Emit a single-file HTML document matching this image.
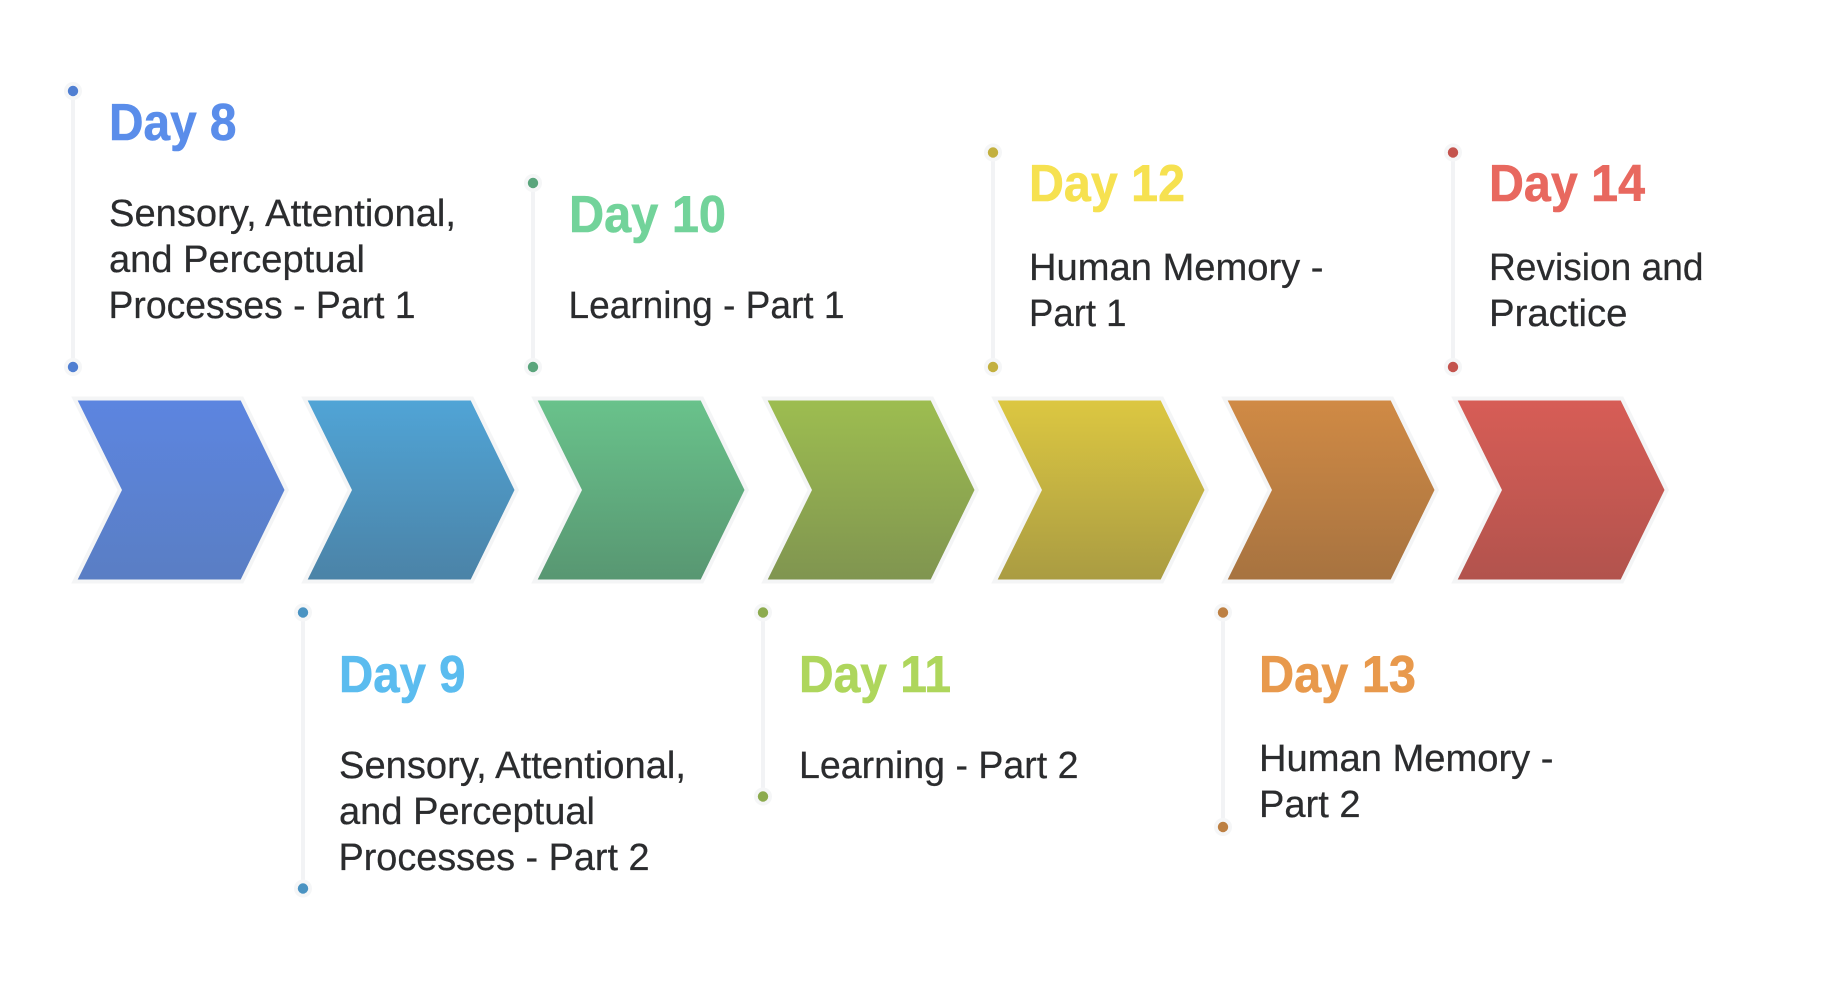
<!DOCTYPE html>
<html lang="en">
<head>
<meta charset="utf-8">
<title>Day 8 to Day 14 Timeline</title>
<style>
html,body{margin:0;padding:0;background:#fff;width:1838px;height:982px;overflow:hidden}
svg{display:block}
text{font-family:"Liberation Sans",Arial,sans-serif}
.t{font-size:52px;font-weight:700;stroke-width:.6px}
.b{font-size:38px;fill:#2b2c2e;stroke:#2b2c2e;stroke-width:.25px}
.l{stroke:#f2f3f5;stroke-width:4;fill:none}
.h{fill:#f5f6f7}
.e{fill:none;stroke:#f4f5f6;stroke-width:8;stroke-linejoin:miter;stroke-miterlimit:6}
</style>
</head>
<body>
<svg width="1838" height="982" viewBox="0 0 1838 982" xmlns="http://www.w3.org/2000/svg">
<defs>
<linearGradient id="g1" x1="0" y1="0" x2="0" y2="1"><stop offset="0" stop-color="#5c85e0"/><stop offset="1" stop-color="#5a7ec4"/></linearGradient>
<linearGradient id="g2" x1="0" y1="0" x2="0" y2="1"><stop offset="0" stop-color="#50a4d6"/><stop offset="1" stop-color="#4b83a7"/></linearGradient>
<linearGradient id="g3" x1="0" y1="0" x2="0" y2="1"><stop offset="0" stop-color="#69c28b"/><stop offset="1" stop-color="#589772"/></linearGradient>
<linearGradient id="g4" x1="0" y1="0" x2="0" y2="1"><stop offset="0" stop-color="#9dbd50"/><stop offset="1" stop-color="#809550"/></linearGradient>
<linearGradient id="g5" x1="0" y1="0" x2="0" y2="1"><stop offset="0" stop-color="#dcc741"/><stop offset="1" stop-color="#aa9c42"/></linearGradient>
<linearGradient id="g6" x1="0" y1="0" x2="0" y2="1"><stop offset="0" stop-color="#d08a45"/><stop offset="1" stop-color="#a77340"/></linearGradient>
<linearGradient id="g7" x1="0" y1="0" x2="0" y2="1"><stop offset="0" stop-color="#d75d56"/><stop offset="1" stop-color="#b2534d"/></linearGradient>
</defs>

<!-- Chevrons -->
<g class="chevrons">
<polygon class="e" points="77.7,400.5 240.7,400.5 284.5,490 240.7,579.5 77.7,579.5 122,490"/>
<polygon class="e" points="307.7,400.5 470.7,400.5 514.5,490 470.7,579.5 307.7,579.5 352,490"/>
<polygon class="e" points="537.7,400.5 700.7,400.5 744.5,490 700.7,579.5 537.7,579.5 582,490"/>
<polygon class="e" points="767.7,400.5 930.7,400.5 974.5,490 930.7,579.5 767.7,579.5 812,490"/>
<polygon class="e" points="997.7,400.5 1160.7,400.5 1204.5,490 1160.7,579.5 997.7,579.5 1042,490"/>
<polygon class="e" points="1227.7,400.5 1390.7,400.5 1434.5,490 1390.7,579.5 1227.7,579.5 1272,490"/>
<polygon class="e" points="1457.7,400.5 1620.7,400.5 1664.5,490 1620.7,579.5 1457.7,579.5 1502,490"/>
<polygon fill="url(#g1)" points="77.7,400.5 240.7,400.5 284.5,490 240.7,579.5 77.7,579.5 122,490"/>
<polygon fill="url(#g2)" points="307.7,400.5 470.7,400.5 514.5,490 470.7,579.5 307.7,579.5 352,490"/>
<polygon fill="url(#g3)" points="537.7,400.5 700.7,400.5 744.5,490 700.7,579.5 537.7,579.5 582,490"/>
<polygon fill="url(#g4)" points="767.7,400.5 930.7,400.5 974.5,490 930.7,579.5 767.7,579.5 812,490"/>
<polygon fill="url(#g5)" points="997.7,400.5 1160.7,400.5 1204.5,490 1160.7,579.5 997.7,579.5 1042,490"/>
<polygon fill="url(#g6)" points="1227.7,400.5 1390.7,400.5 1434.5,490 1390.7,579.5 1227.7,579.5 1272,490"/>
<polygon fill="url(#g7)" points="1457.7,400.5 1620.7,400.5 1664.5,490 1620.7,579.5 1457.7,579.5 1502,490"/>
</g>

<!-- Connector lines -->
<line class="l" x1="73" y1="91" x2="73" y2="367"/>
<line class="l" x1="303" y1="612.5" x2="303" y2="888.5"/>
<line class="l" x1="533" y1="183" x2="533" y2="367"/>
<line class="l" x1="763" y1="612.5" x2="763" y2="796.5"/>
<line class="l" x1="993" y1="152.5" x2="993" y2="367"/>
<line class="l" x1="1223" y1="612.5" x2="1223" y2="827"/>
<line class="l" x1="1453" y1="152.5" x2="1453" y2="367"/>

<!-- Dot halos -->
<circle class="h" cx="73" cy="91" r="9"/><circle class="h" cx="73" cy="367" r="9"/>
<circle class="h" cx="303" cy="612.5" r="9"/><circle class="h" cx="303" cy="888.5" r="9"/>
<circle class="h" cx="533" cy="183" r="9"/><circle class="h" cx="533" cy="367" r="9"/>
<circle class="h" cx="763" cy="612.5" r="9"/><circle class="h" cx="763" cy="796.5" r="9"/>
<circle class="h" cx="993" cy="152.5" r="9"/><circle class="h" cx="993" cy="367" r="9"/>
<circle class="h" cx="1223" cy="612.5" r="9"/><circle class="h" cx="1223" cy="827" r="9"/>
<circle class="h" cx="1453" cy="152.5" r="9"/><circle class="h" cx="1453" cy="367" r="9"/>

<!-- Dots -->
<g fill="#507fd2"><circle cx="73" cy="91" r="5.2"/><circle cx="73" cy="367" r="5.2"/></g>
<g fill="#4a93c2"><circle cx="303" cy="612.5" r="5.2"/><circle cx="303" cy="888.5" r="5.2"/></g>
<g fill="#5aa57c"><circle cx="533" cy="183" r="5.2"/><circle cx="533" cy="367" r="5.2"/></g>
<g fill="#8cab4e"><circle cx="763" cy="612.5" r="5.2"/><circle cx="763" cy="796.5" r="5.2"/></g>
<g fill="#c3b03f"><circle cx="993" cy="152.5" r="5.2"/><circle cx="993" cy="367" r="5.2"/></g>
<g fill="#bd8043"><circle cx="1223" cy="612.5" r="5.2"/><circle cx="1223" cy="827" r="5.2"/></g>
<g fill="#c4544e"><circle cx="1453" cy="152.5" r="5.2"/><circle cx="1453" cy="367" r="5.2"/></g>

<!-- Titles -->
<text class="t" fill="#5a8dea" stroke="#5a8dea" x="109" y="140" textLength="127.5" lengthAdjust="spacingAndGlyphs">Day 8</text>
<text class="t" fill="#5bbcef" stroke="#5bbcef" x="339" y="692" textLength="126.5" lengthAdjust="spacingAndGlyphs">Day 9</text>
<text class="t" fill="#72d39a" stroke="#72d39a" x="569" y="232" textLength="157" lengthAdjust="spacingAndGlyphs">Day 10</text>
<text class="t" fill="#aed65c" stroke="#aed65c" x="799" y="692" textLength="152" lengthAdjust="spacingAndGlyphs">Day 11</text>
<text class="t" fill="#f6e150" stroke="#f6e150" x="1029" y="201" textLength="156" lengthAdjust="spacingAndGlyphs">Day 12</text>
<text class="t" fill="#e8994c" stroke="#e8994c" x="1259" y="692" textLength="157" lengthAdjust="spacingAndGlyphs">Day 13</text>
<text class="t" fill="#e8685f" stroke="#e8685f" x="1489" y="201" textLength="156" lengthAdjust="spacingAndGlyphs">Day 14</text>

<!-- Body text -->
<text class="b" x="109" y="226" textLength="347" lengthAdjust="spacingAndGlyphs">Sensory, Attentional,</text>
<text class="b" x="109" y="272" textLength="256" lengthAdjust="spacingAndGlyphs">and Perceptual</text>
<text class="b" x="108.5" y="318" textLength="307" lengthAdjust="spacingAndGlyphs">Processes - Part 1</text>

<text class="b" x="339" y="778" textLength="347" lengthAdjust="spacingAndGlyphs">Sensory, Attentional,</text>
<text class="b" x="339" y="824" textLength="256" lengthAdjust="spacingAndGlyphs">and Perceptual</text>
<text class="b" x="338.5" y="870" textLength="311" lengthAdjust="spacingAndGlyphs">Processes - Part 2</text>

<text class="b" x="568.5" y="318" textLength="276" lengthAdjust="spacingAndGlyphs">Learning - Part 1</text>
<text class="b" x="799" y="778" textLength="279.5" lengthAdjust="spacingAndGlyphs">Learning - Part 2</text>

<text class="b" x="1029" y="280" textLength="294.5" lengthAdjust="spacingAndGlyphs">Human Memory -</text>
<text class="b" x="1029" y="326" textLength="97.5" lengthAdjust="spacingAndGlyphs">Part 1</text>

<text class="b" x="1259" y="771" textLength="294.5" lengthAdjust="spacingAndGlyphs">Human Memory -</text>
<text class="b" x="1259" y="817" textLength="101.5" lengthAdjust="spacingAndGlyphs">Part 2</text>

<text class="b" x="1489" y="280" textLength="214.5" lengthAdjust="spacingAndGlyphs">Revision and</text>
<text class="b" x="1489" y="326" textLength="138.5" lengthAdjust="spacingAndGlyphs">Practice</text>
</svg>
</body>
</html>
